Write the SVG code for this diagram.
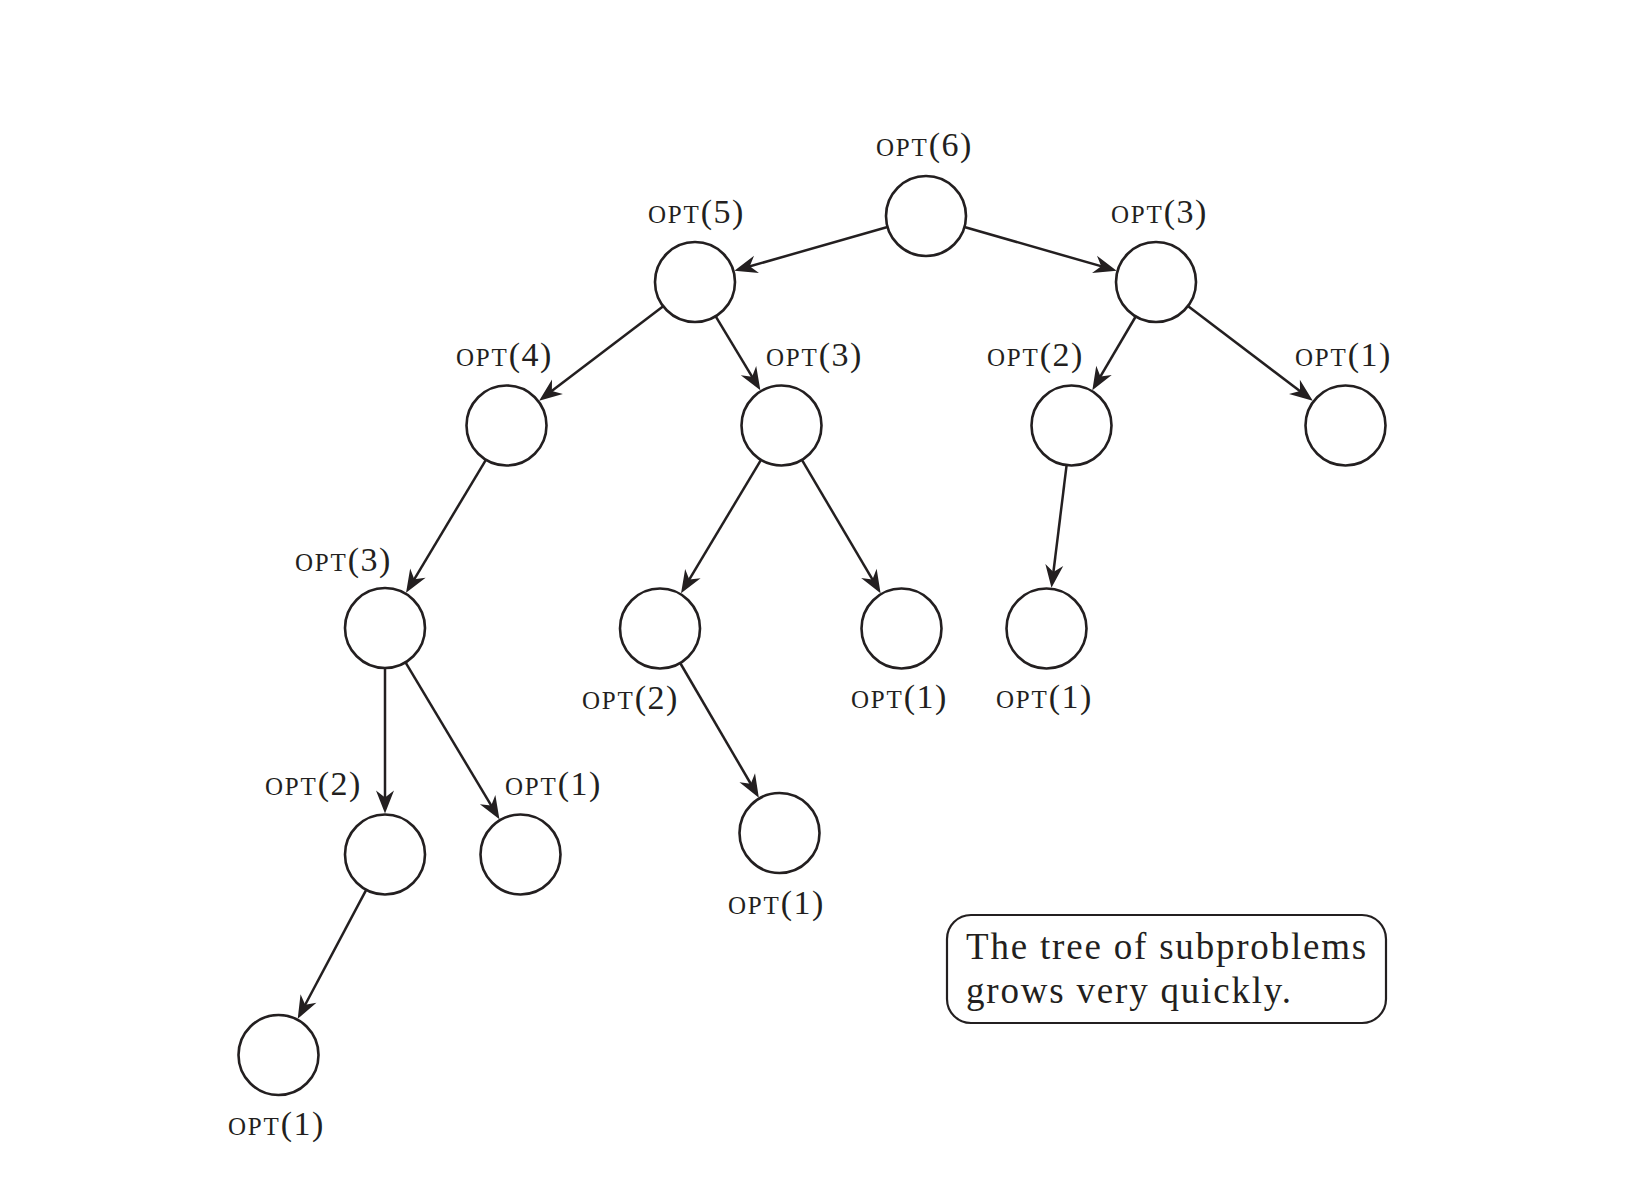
<svg xmlns="http://www.w3.org/2000/svg" width="1642" height="1178" viewBox="0 0 1642 1178">
<style>
  .node circle { fill: #fff; stroke: #231f20; stroke-width: 2.6; }
  .edges line { stroke: #231f20; stroke-width: 2.5; marker-end: url(#ah); }
  .lbl { font-family: "Liberation Serif", "DejaVu Serif", serif; fill: #231f20; }
  .sc { font-size: 25px; letter-spacing: 1.8px; }
  .num { font-size: 34px; letter-spacing: 1.5px; }
  .note rect { fill: #fff; stroke: #231f20; stroke-width: 2.2; }
  .note text { font-family: "Liberation Serif", "DejaVu Serif", serif; font-size: 37px; letter-spacing: 1.8px; fill: #231f20; }
</style>
<defs>
  <marker id="ah" viewBox="-25 -11 27 22" refX="-10" refY="0" markerWidth="27" markerHeight="22" markerUnits="userSpaceOnUse" orient="auto">
    <path d="M0,0 L-23,-9 L-16,0 L-23,9 Z" fill="#231f20"/>
  </marker>
</defs>
<rect width="1642" height="1178" fill="#fff"/>

<g class="edges" id="connectors">
  <line x1="887.5" y1="227.0" x2="744.0" y2="268.0"/>
  <line x1="964.4" y1="227.0" x2="1107.0" y2="267.9"/>
  <line x1="663.2" y1="306.2" x2="547.1" y2="394.6"/>
  <line x1="715.7" y1="316.3" x2="755.2" y2="381.8"/>
  <line x1="1135.7" y1="316.5" x2="1097.4" y2="381.6"/>
  <line x1="1187.9" y1="306.1" x2="1304.8" y2="394.7"/>
  <line x1="485.9" y1="459.8" x2="411.2" y2="584.3"/>
  <line x1="761.0" y1="459.8" x2="686.2" y2="584.7"/>
  <line x1="801.9" y1="459.9" x2="875.5" y2="584.6"/>
  <line x1="1066.6" y1="465.2" x2="1052.7" y2="577.9"/>
  <line x1="385" y1="668" x2="385" y2="803.5"/>
  <line x1="405.5" y1="662.3" x2="494.3" y2="810.7"/>
  <line x1="680.2" y1="663.0" x2="753.8" y2="789.0"/>
  <line x1="366.2" y1="889.8" x2="302.4" y2="1010.0"/>
</g>

<g class="node" id="opt6"><circle cx="926" cy="216" r="40"/><text class="lbl" x="876" y="156"><tspan class="sc">OPT</tspan><tspan class="num">(6)</tspan></text></g>
<g class="node" id="opt5"><circle cx="695" cy="282" r="40"/><text class="lbl" x="648" y="223"><tspan class="sc">OPT</tspan><tspan class="num">(5)</tspan></text></g>
<g class="node" id="opt3a"><circle cx="1156" cy="282" r="40"/><text class="lbl" x="1111" y="223"><tspan class="sc">OPT</tspan><tspan class="num">(3)</tspan></text></g>
<g class="node" id="opt4"><circle cx="506.5" cy="425.5" r="40"/><text class="lbl" x="456" y="366"><tspan class="sc">OPT</tspan><tspan class="num">(4)</tspan></text></g>
<g class="node" id="opt3b"><circle cx="781.5" cy="425.5" r="40"/><text class="lbl" x="766" y="366"><tspan class="sc">OPT</tspan><tspan class="num">(3)</tspan></text></g>
<g class="node" id="opt2a"><circle cx="1071.5" cy="425.5" r="40"/><text class="lbl" x="987" y="366"><tspan class="sc">OPT</tspan><tspan class="num">(2)</tspan></text></g>
<g class="node" id="opt1a"><circle cx="1345.5" cy="425.5" r="40"/><text class="lbl" x="1295" y="366"><tspan class="sc">OPT</tspan><tspan class="num">(1)</tspan></text></g>
<g class="node" id="opt3c"><circle cx="385" cy="628" r="40"/><text class="lbl" x="295" y="571"><tspan class="sc">OPT</tspan><tspan class="num">(3)</tspan></text></g>
<g class="node" id="opt2b"><circle cx="660" cy="628.5" r="40"/><text class="lbl" x="582" y="709"><tspan class="sc">OPT</tspan><tspan class="num">(2)</tspan></text></g>
<g class="node" id="opt1b"><circle cx="901.5" cy="628.5" r="40"/><text class="lbl" x="851" y="708"><tspan class="sc">OPT</tspan><tspan class="num">(1)</tspan></text></g>
<g class="node" id="opt1c"><circle cx="1046.5" cy="628.5" r="40"/><text class="lbl" x="996" y="708"><tspan class="sc">OPT</tspan><tspan class="num">(1)</tspan></text></g>
<g class="node" id="opt2c"><circle cx="385" cy="854.5" r="40"/><text class="lbl" x="265" y="795"><tspan class="sc">OPT</tspan><tspan class="num">(2)</tspan></text></g>
<g class="node" id="opt1d"><circle cx="520.5" cy="854.5" r="40"/><text class="lbl" x="505" y="795"><tspan class="sc">OPT</tspan><tspan class="num">(1)</tspan></text></g>
<g class="node" id="opt1e"><circle cx="779.5" cy="833" r="40"/><text class="lbl" x="728" y="914"><tspan class="sc">OPT</tspan><tspan class="num">(1)</tspan></text></g>
<g class="node" id="opt1f"><circle cx="278.5" cy="1055" r="40"/><text class="lbl" x="228" y="1135"><tspan class="sc">OPT</tspan><tspan class="num">(1)</tspan></text></g>

<g class="note" id="note">
  <rect x="947" y="915" width="439" height="108" rx="24" ry="24"/>
  <text x="966" y="959">The tree of subproblems</text>
  <text x="966" y="1003">grows very quickly.</text>
</g>
</svg>
